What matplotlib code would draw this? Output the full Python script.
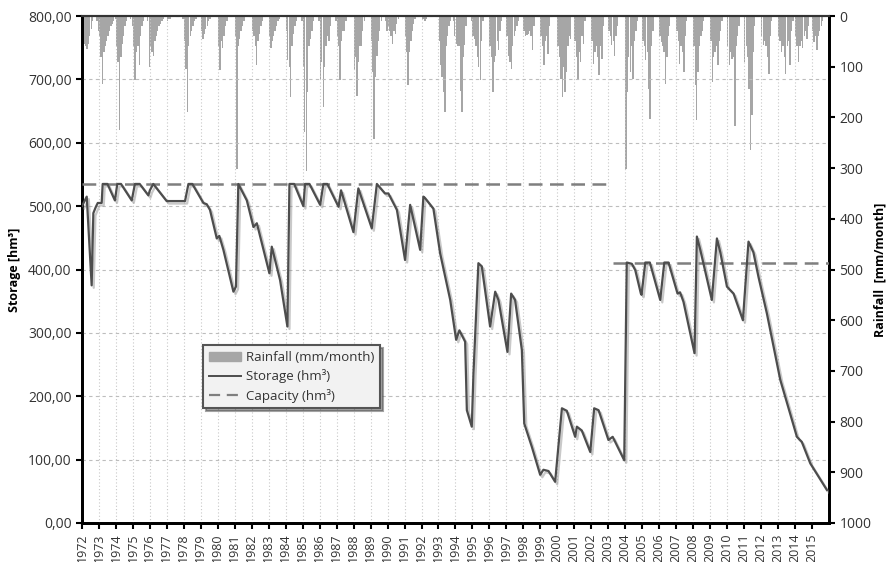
#-----------------------------------------------------------------------
#---- plot.py : Storage / rainfall chart (1972-2015)
#-----------------------------------------------------------------------

import numpy as np
import matplotlib
matplotlib.use("Agg")
import matplotlib.pyplot as plt
import matplotlib.patheffects as pe
from matplotlib.patches import Patch
from matplotlib.lines import Line2D
from matplotlib.ticker import FuncFormatter, MultipleLocator

plt.rcParams['font.family'] = ['Open Sans', 'DejaVu Sans']

#---- Years on the x axis
years = list(range(1972, 2016))

#---- Monthly rainfall (mm/month), one row per year, Jan..Dec
rainfall_mm = [
    [50, 55, 60, 65, 55, 40, 25, 10, 0, 0, 10, 30],      # 1972
    [40, 80, 134, 70, 60, 50, 40, 30, 20, 15, 10, 5],    # 1973
    [60, 90, 224, 80, 55, 40, 20, 10, 0, 0, 5, 20],      # 1974
    [60, 127, 70, 60, 97, 40, 20, 10, 0, 0, 10, 100],    # 1975
    [60, 70, 78, 50, 40, 30, 20, 15, 10, 5, 0, 0],       # 1976
    [10, 5, 5, 0, 0, 0, 0, 0, 0, 0, 0, 5],               # 1977
    [50, 104, 190, 60, 40, 30, 20, 10, 5, 0, 0, 0],      # 1978
    [30, 45, 35, 25, 20, 10, 5, 0, 0, 0, 0, 0],          # 1979
    [60, 107, 50, 64, 40, 20, 10, 0, 0, 0, 0, 0],        # 1980
    [40, 301, 60, 45, 30, 20, 10, 0, 0, 0, 0, 0],        # 1981
    [30, 40, 60, 97, 50, 35, 20, 10, 0, 0, 0, 0],        # 1982
    [40, 64, 50, 40, 30, 20, 10, 5, 0, 0, 0, 0],         # 1983
    [30, 87, 100, 160, 60, 35, 20, 10, 0, 0, 0, 10],     # 1984
    [100, 229, 305, 150, 60, 45, 30, 10, 0, 0, 0, 10],   # 1985
    [124, 90, 180, 100, 60, 40, 50, 20, 0, 0, 0, 10],    # 1986
    [40, 60, 127, 50, 30, 30, 10, 0, 0, 0, 0, 0],        # 1987
    [107, 80, 157, 90, 60, 60, 30, 10, 0, 0, 0, 0],      # 1988
    [50, 110, 242, 120, 78, 50, 30, 10, 0, 0, 10, 30],   # 1989
    [20, 30, 40, 55, 30, 35, 15, 5, 0, 0, 0, 0],         # 1990
    [40, 70, 137, 71, 50, 30, 15, 5, 0, 0, 0, 0],        # 1991
    [5, 5, 10, 5, 0, 0, 0, 0, 0, 0, 0, 0],               # 1992
    [50, 97, 120, 150, 190, 60, 40, 20, 10, 0, 10, 40],  # 1993
    [55, 60, 60, 147, 190, 80, 58, 20, 0, 0, 0, 10],     # 1994
    [40, 45, 60, 80, 100, 127, 50, 10, 0, 0, 0, 0],      # 1995
    [60, 80, 150, 90, 78, 50, 68, 30, 10, 0, 0, 0],      # 1996
    [40, 78, 90, 104, 60, 40, 30, 20, 10, 0, 0, 0],      # 1997
    [30, 40, 38, 35, 30, 40, 68, 20, 0, 0, 0, 0],        # 1998
    [40, 60, 97, 50, 40, 74, 20, 0, 0, 0, 0, 0],         # 1999
    [60, 80, 124, 160, 100, 150, 110, 60, 40, 45, 0, 0], # 2000
    [50, 80, 127, 70, 91, 40, 55, 10, 0, 0, 0, 0],       # 2001
    [50, 94, 70, 60, 80, 117, 60, 84, 20, 0, 0, 0],      # 2002
    [30, 40, 58, 50, 78, 40, 20, 0, 0, 0, 0, 0],         # 2003
    [301, 150, 80, 110, 60, 124, 50, 30, 10, 0, 0, 0],   # 2004
    [50, 60, 87, 70, 143, 203, 60, 30, 0, 0, 0, 0],      # 2005
    [40, 51, 60, 70, 134, 80, 40, 20, 0, 0, 0, 0],       # 2006
    [30, 50, 94, 60, 70, 110, 40, 10, 0, 0, 0, 0],       # 2007
    [60, 137, 206, 110, 60, 40, 30, 10, 0, 0, 0, 0],     # 2008
    [50, 130, 80, 70, 60, 97, 50, 30, 10, 0, 0, 0],      # 2009
    [60, 97, 70, 84, 80, 216, 60, 40, 20, 0, 0, 0],      # 2010
    [91, 60, 80, 143, 265, 196, 70, 20, 0, 0, 0, 0],     # 2011
    [40, 58, 50, 60, 80, 114, 40, 10, 0, 0, 0, 0],       # 2012
    [40, 50, 71, 60, 80, 114, 60, 50, 97, 30, 10, 0],    # 2013
    [40, 60, 91, 60, 50, 64, 40, 30, 45, 20, 0, 0],      # 2014
    [30, 51, 40, 68, 40, 30, 20, 10, 0, 0, 0, 0],        # 2015
]

#---- Storage (hm3) read at turning points, time in decimal years
storage_t = [1972.0, 1972.28, 1972.57, 1972.67, 1972.82, 1972.93, 1973.16, 1973.22,
             1973.5, 1973.94, 1974.08, 1974.3, 1974.93, 1975.12, 1975.4, 1975.91,
             1976.0, 1976.2, 1976.99, 1978.07, 1978.27, 1978.5, 1979.15, 1979.35,
             1979.54, 1979.94, 1980.09, 1980.33, 1980.92, 1981.07, 1981.21, 1981.71,
             1982.1, 1982.3, 1983.04, 1983.18, 1983.67, 1984.1, 1984.22, 1984.5,
             1985.04, 1985.14, 1985.4, 1986.03, 1986.22, 1986.45, 1987.11, 1987.26,
             1987.99, 1988.28, 1989.07, 1989.37, 1989.85, 1990.05, 1990.55, 1991.03,
             1991.33, 1991.92, 1992.11, 1992.2, 1992.7, 1993.1, 1993.69, 1994.04,
             1994.23, 1994.57, 1994.67, 1994.96, 1995.06, 1995.35, 1995.55, 1996.04,
             1996.34, 1996.53, 1997.06, 1997.28, 1997.51, 1997.91, 1998.05, 1998.5,
             1998.99, 1999.18, 1999.48, 1999.87, 2000.27, 2000.56, 2001.05, 2001.15,
             2001.44, 2001.94, 2002.17, 2002.43, 2003.01, 2003.26, 2003.94, 2004.09,
             2004.39, 2004.59, 2004.92, 2004.96, 2005.18, 2005.45, 2006.06, 2006.3,
             2006.55, 2007.08, 2007.23, 2007.43, 2008.08, 2008.22, 2008.42, 2009.1,
             2009.4, 2009.6, 2009.99, 2010.38, 2010.93, 2011.26, 2011.55, 2011.85,
             2012.34, 2013.13, 2014.11, 2014.4, 2014.9, 2015.88]
storage_v = [500, 515, 375, 489, 499, 505, 505, 535,
             535, 509, 535, 535, 509, 535, 535, 517,
             525, 535, 508, 508, 535, 535, 505, 503,
             494, 449, 453, 431, 365, 373, 535, 509,
             467, 473, 394, 436, 383, 310, 535, 535,
             500, 535, 535, 502, 535, 535, 499, 525,
             459, 528, 465, 535, 520, 520, 494, 415,
             502, 431, 515, 513, 496, 425, 352, 289,
             304, 286, 178, 152, 236, 410, 405, 310,
             365, 352, 270, 362, 352, 273, 157, 120,
             76, 84, 82, 65, 181, 177, 136, 152,
             146, 112, 181, 178, 131, 136, 99, 411,
             409, 399, 362, 360, 411, 411, 352, 411,
             411, 362, 364, 349, 268, 452, 431, 352,
             449, 427, 373, 362, 320, 444, 427, 388,
             331, 226, 136, 128, 94, 52]

#---- Reservoir capacity (hm3): two periods
capacity_t = [[1972.0, 2003.2], [2003.3, 2016.0]]
capacity_v = [535, 411]


#-----------------------------------------------------------------------
#---- Main script
#-----------------------------------------------------------------------
def main():

    fig = plt.figure(figsize=(8.93, 5.62), dpi=100)
    ax = fig.add_axes([0.0918, 0.0694, 0.8365, 0.9021])
    ax2 = ax.twinx()

    #---- Rainfall bars, hanging from the top (inverted right axis)
    rain = np.array(rainfall_mm, dtype=float)
    x_month = np.array([y + (m + 0.5) / 12.0 for y in years for m in range(12)])
    ax2.bar(x_month, rain.ravel(), width=1.0 / 12.0 * 0.95, color='#a6a6a6',
            edgecolor='none', zorder=2)
    ax2.set_ylim(1000, 0)
    ax2.yaxis.set_major_locator(MultipleLocator(100))

    #---- Storage and capacity on the left axis (drawn above the bars)
    ax.set_zorder(ax2.get_zorder() + 1)
    ax.patch.set_visible(False)

    shadow = [pe.SimpleLineShadow(offset=(1.5, -1.8), shadow_color='#888888', alpha=0.45),
              pe.Normal()]
    ax.plot(storage_t, storage_v, color='#4d4d4d', lw=1.6, zorder=4, path_effects=shadow)
    for tt, vv in zip(capacity_t, capacity_v):
        ax.plot(tt, [vv, vv], color='#7f7f7f', lw=1.8, ls=(0, (5.5, 3)), zorder=3)

    ax.set_xlim(1972, 2016)
    ax.set_ylim(0, 800)
    ax.yaxis.set_major_locator(MultipleLocator(100))
    ax.yaxis.set_major_formatter(FuncFormatter(lambda v, p: f"{v:.2f}".replace('.', ',')))
    ax.set_xticks(years)
    ax.set_xticklabels([str(y) for y in years], rotation=90, fontsize=9, color='#333333')

    #---- Grilles
    ax.grid(axis='y', color='#bdbdbd', ls=(0, (3, 3)), lw=0.8)
    ax.grid(axis='x', color='#c8c8c8', ls=(0, (1, 2)), lw=0.8)
    ax.set_axisbelow(True)

    #---- Axes et labels
    for a in (ax, ax2):
        for side in ('left', 'right', 'bottom'):
            a.spines[side].set_linewidth(2.0)
            a.spines[side].set_color('black')
        a.spines['top'].set_linewidth(1.5)
        a.spines['top'].set_color('#333333')
        a.tick_params(axis='both', width=1.5, length=4, colors='black',
                      labelcolor='#333333', labelsize=10)
    ax.tick_params(axis='x', labelsize=9)

    ax.set_ylabel("Storage [hm³]", fontsize=9, fontweight='bold', labelpad=5)
    fig.text(0.986, 0.52, "Rainfall  [mm/month]", rotation=90, ha='center', va='center',
             fontsize=9, fontweight='bold')

    #---- Legende
    handles = [Patch(facecolor='#a6a6a6', edgecolor='#a6a6a6'),
               Line2D([], [], color='#4d4d4d', lw=1.4),
               Line2D([], [], color='#7f7f7f', lw=1.6, ls=(0, (5, 3)))]
    labels = ["Rainfall (mm/month)", "Storage (hm³)", "Capacity (hm³)"]
    leg = ax.legend(handles, labels, loc='upper left', bbox_to_anchor=(0.162, 0.351),
                    borderaxespad=0.0,
                    fontsize=9.5, frameon=True, fancybox=False, shadow=True,
                    facecolor='#f2f2f2', edgecolor='#555555', framealpha=1.0,
                    handlelength=2.4, handletextpad=0.4, borderpad=0.45,
                    labelspacing=0.4)
    leg.get_frame().set_linewidth(1.5)
    for t in leg.get_texts():
        t.set_color('#333333')

    fig.savefig("out.png", dpi=100)


#-----------------------------------------------------------------------
if __name__ == "__main__":
    main()
